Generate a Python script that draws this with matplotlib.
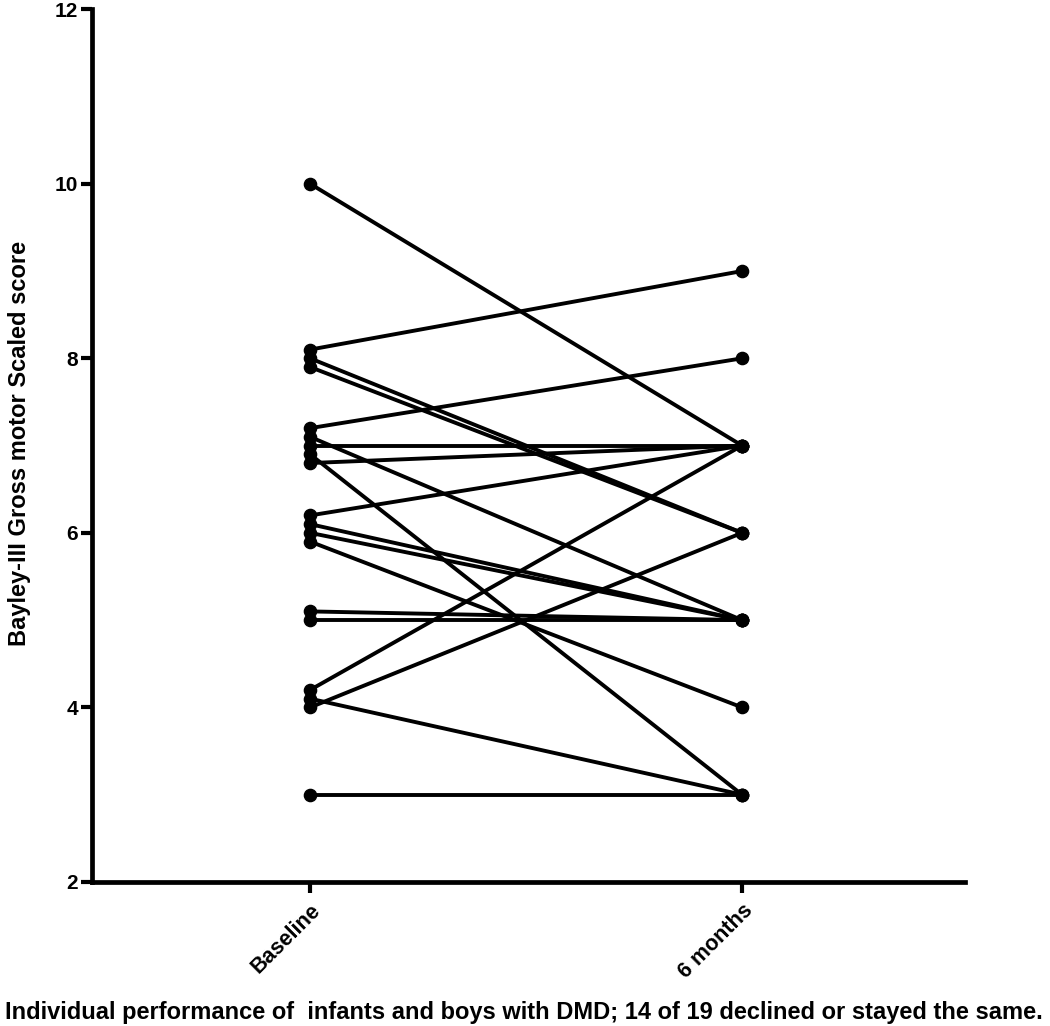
import matplotlib
matplotlib.use("Agg")
import matplotlib.pyplot as plt

# Gross motor scaled score per child, baseline vs 6 months
# (baseline values carry the small offsets used to separate tied dots)
timepoints = ["Baseline", "6 months"]
baseline = [10, 8.1, 8.0, 7.9, 7.2, 7.1, 7.0, 6.9, 6.8,
            6.2, 6.1, 6.0, 5.9, 5.1, 5.0, 4.2, 4.1, 4.0, 3]
six_months = [7, 9, 6, 6, 8, 5, 7, 3, 7,
              7, 5, 5, 4, 5, 5, 7, 3, 6, 3]
y_ticks = [2, 4, 6, 8, 10, 12]

plt.rcParams['font.family'] = ['Liberation Sans', 'DejaVu Sans']
plt.rcParams['font.weight'] = 'bold'

fig = plt.figure(figsize=(10.5, 10.26), dpi=100)
ax = fig.add_axes([0.0876, 0.1404, 0.8314, 0.8506])

for b, s in zip(baseline, six_months):
    ax.plot([0, 1], [b, s], color='black', linewidth=2.8, marker='o',
            markersize=8.8, solid_capstyle='round')

ax.set_xlim(-0.505, 1.516)
ax.set_ylim(2, 12)
ax.set_yticks(y_ticks)
ax.set_yticklabels([str(t) for t in y_ticks], fontsize=15, fontweight='bold')
ax.set_xticks([0, 1])
ax.set_xticklabels(timepoints, rotation=45, ha='right', va='top',
                   rotation_mode='anchor', fontsize=15.5, fontweight='bold')

for side in ['top', 'right']:
    ax.spines[side].set_visible(False)
for side in ['left', 'bottom']:
    ax.spines[side].set_linewidth(3.4)
ax.tick_params(axis='both', direction='out', length=8, width=3.0, pad=2)
ax.tick_params(axis='x', pad=5)

ax.set_ylabel("Bayley-III Gross motor Scaled score", fontsize=17,
              fontweight='bold')
ax.yaxis.set_label_coords(-0.070, 0.503)

fig.text(0.499, 0.0068, "Individual performance of  infants and boys with DMD; "
         "14 of 19 declined or stayed the same.", ha='center', va='baseline',
         fontsize=17, fontweight='bold')

fig.savefig("out.png", dpi=100)
